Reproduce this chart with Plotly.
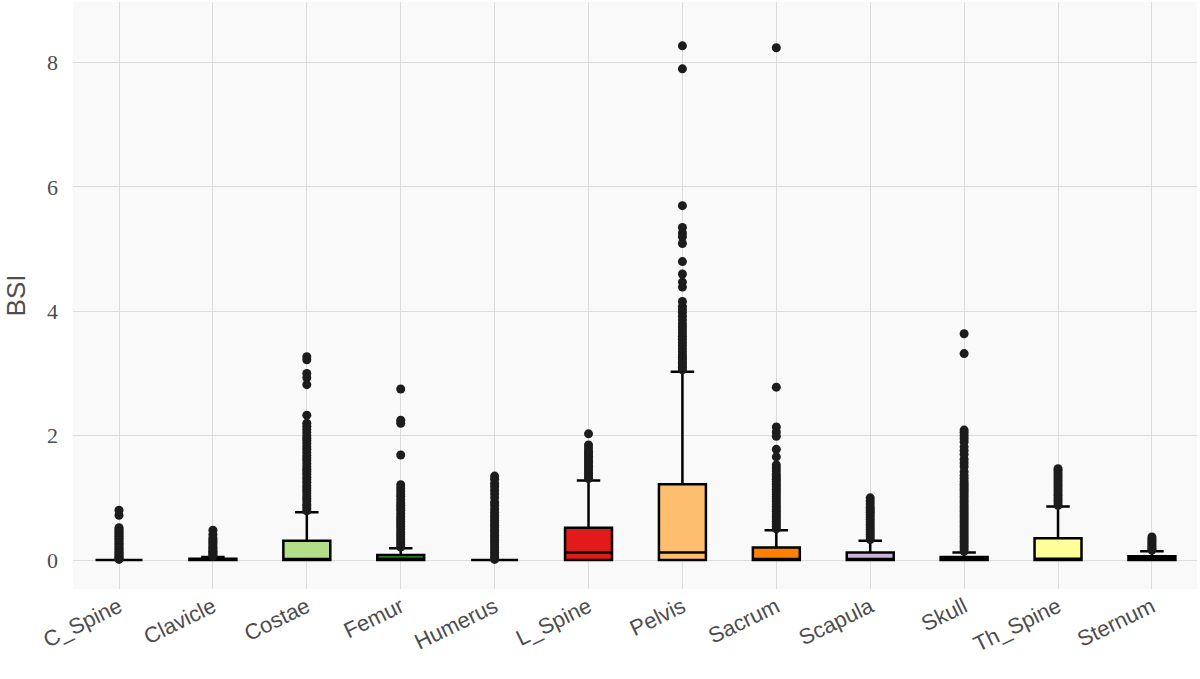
import plotly.graph_objects as go

categories = ["C_Spine", "Clavicle", "Costae", "Femur", "Humerus", "L_Spine",
              "Pelvis", "Sacrum", "Scapula", "Skull", "Th_Spine", "Sternum"]
colors = ["#A6CEE3", "#1F78B4", "#B2DF8A", "#33A02C", "#FB9A99", "#E31A1C",
          "#FDBF6F", "#FF7F00", "#CAB2D6", "#6A3D9A", "#FFFF99", "#B15928"]

q1_vals = [0, 0, 0, 0, 0, 0, 0, 0, 0, 0, 0, 0]
median_vals = [0, 0, 0, 0.02, 0, 0.12, 0.12, 0.0, 0.0, 0.0, 0.02, 0.03]
q3_vals = [0, 0.02, 0.31, 0.08, 0, 0.52, 1.22, 0.2, 0.12, 0.05, 0.35, 0.06]
lower_vals = [0, 0, 0, 0, 0, 0, 0, 0, 0, 0, 0, 0]
upper_vals = [0, 0.05, 0.77, 0.19, 0, 1.28, 3.03, 0.48, 0.31, 0.12, 0.86, 0.14]

out_c_spine = [0.01, 0.02, 0.04, 0.06, 0.08, 0.1, 0.12, 0.14, 0.17, 0.19, 0.22,
               0.25, 0.27, 0.3, 0.33, 0.35, 0.38, 0.4, 0.43, 0.45, 0.47, 0.5,
               0.52, 0.72, 0.8]
out_clavicle = [0.06, 0.08, 0.1, 0.12, 0.14, 0.16, 0.19, 0.21, 0.24, 0.27, 0.3,
                0.33, 0.36, 0.41, 0.48]
out_costae = [0.79, 0.83, 0.87, 0.9, 0.95, 0.99, 1.03, 1.08, 1.12, 1.16, 1.2,
              1.25, 1.29, 1.33, 1.38, 1.42, 1.46, 1.5, 1.55, 1.6, 1.64, 1.68,
              1.73, 1.78, 1.82, 1.87, 1.92, 1.96, 2.0, 2.05, 2.1, 2.15, 2.2,
              2.33, 2.82, 2.93, 3.0, 3.22, 3.27]
out_femur = [0.21, 0.25, 0.29, 0.33, 0.37, 0.41, 0.45, 0.5, 0.54, 0.58, 0.62,
             0.66, 0.7, 0.75, 0.8, 0.84, 0.88, 0.92, 0.97, 1.02, 1.06, 1.11,
             1.16, 1.21, 1.69, 2.2, 2.25, 2.75]
out_humerus = [0.01, 0.04, 0.08, 0.12, 0.16, 0.2, 0.24, 0.28, 0.32, 0.36, 0.4,
               0.44, 0.48, 0.52, 0.56, 0.6, 0.64, 0.68, 0.72, 0.77, 0.82, 0.88,
               0.93, 1.0, 1.06, 1.12, 1.18, 1.23, 1.3, 1.35]
out_l_spine = [1.31, 1.35, 1.39, 1.43, 1.47, 1.51, 1.55, 1.59, 1.63, 1.67,
               1.71, 1.75, 1.8, 1.85, 2.03]
out_pelvis = [3.06, 3.1, 3.14, 3.18, 3.22, 3.26, 3.3, 3.35, 3.4, 3.45, 3.5,
              3.55, 3.6, 3.65, 3.7, 3.75, 3.8, 3.86, 3.92, 3.98, 4.03, 4.08,
              4.16, 4.39, 4.47, 4.6, 4.8, 5.09, 5.2, 5.26, 5.35, 5.7, 7.9, 8.27]
out_sacrum = [0.5, 0.54, 0.58, 0.62, 0.66, 0.7, 0.74, 0.78, 0.82, 0.86, 0.9,
              0.94, 0.98, 1.02, 1.06, 1.1, 1.14, 1.18, 1.22, 1.26, 1.3, 1.34,
              1.38, 1.43, 1.48, 1.53, 1.66, 1.78, 1.99, 2.06, 2.14, 2.78, 8.24]
out_scapula = [0.33, 0.37, 0.41, 0.45, 0.49, 0.53, 0.57, 0.61, 0.65, 0.69,
               0.73, 0.77, 0.81, 0.85, 0.9, 0.95, 1.0]
out_skull = [0.14, 0.18, 0.22, 0.26, 0.3, 0.34, 0.38, 0.42, 0.46, 0.5, 0.54,
             0.58, 0.62, 0.66, 0.7, 0.74, 0.78, 0.82, 0.86, 0.9, 0.94, 0.98,
             1.02, 1.06, 1.1, 1.14, 1.18, 1.22, 1.26, 1.31, 1.36, 1.42, 1.5,
             1.56, 1.62, 1.7, 1.76, 1.82, 1.9, 1.95, 2.0, 2.05, 2.09, 3.32, 3.64]
out_th_spine = [0.88, 0.92, 0.96, 1.0, 1.04, 1.08, 1.12, 1.16, 1.2, 1.24,
                1.28, 1.32, 1.36, 1.4, 1.44, 1.47]
out_sternum = [0.16, 0.19, 0.22, 0.25, 0.28, 0.31, 0.34, 0.37]

outliers = [out_c_spine, out_clavicle, out_costae, out_femur, out_humerus,
            out_l_spine, out_pelvis, out_sacrum, out_scapula, out_skull,
            out_th_spine, out_sternum]

y_ticks = [0, 2, 4, 6, 8]

fig = go.Figure()
for i, cat in enumerate(categories):
    fig.add_trace(go.Box(
        x=[cat], q1=[q1_vals[i]], median=[median_vals[i]], q3=[q3_vals[i]],
        lowerfence=[lower_vals[i]], upperfence=[upper_vals[i]],
        fillcolor=colors[i], line=dict(color="black", width=2.5),
        width=0.5, whiskerwidth=0.5, boxpoints=False, showlegend=False,
        hoverinfo="skip",
    ))
for i, cat in enumerate(categories):
    fig.add_trace(go.Scatter(
        x=[cat] * len(outliers[i]), y=outliers[i], mode="markers",
        marker=dict(size=9, color="#1c1c1c"), showlegend=False,
        hoverinfo="skip",
    ))

fig.update_layout(
    width=1200, height=679,
    margin=dict(l=73, r=3, t=2, b=90),
    paper_bgcolor="white", plot_bgcolor="#f9f9f9",
    boxmode="overlay",
    xaxis=dict(
        type="category", categoryorder="array", categoryarray=categories,
        range=[-0.49, 11.48], showgrid=True, gridcolor="#dcdcdc", gridwidth=1,
        zeroline=False, showline=False, ticks="", tickangle=-26,
        automargin=False,
        tickfont=dict(family="Liberation Sans, Arial, sans-serif", size=22,
                      color="#4d4d4d"),
    ),
    yaxis=dict(
        range=[-0.466, 8.975], tickvals=y_ticks,
        ticktext=[str(v) for v in y_ticks],
        showgrid=True, gridcolor="#dcdcdc", gridwidth=1, zeroline=False,
        showline=False, ticks="", ticklabelstandoff=14, automargin=False,
        tickfont=dict(family="Liberation Serif, Times New Roman, serif",
                      size=22, color="#4d4d4d"),
        title=dict(text="BSI", standoff=13,
                   font=dict(family="Liberation Sans, Arial, sans-serif",
                             size=26, color="#4d4d4d")),
    ),
)

fig.write_html("out.html", config={"displayModeBar": False},
               post_script="document.body.style.margin='0';"
                           "document.body.style.overflow='hidden';")
